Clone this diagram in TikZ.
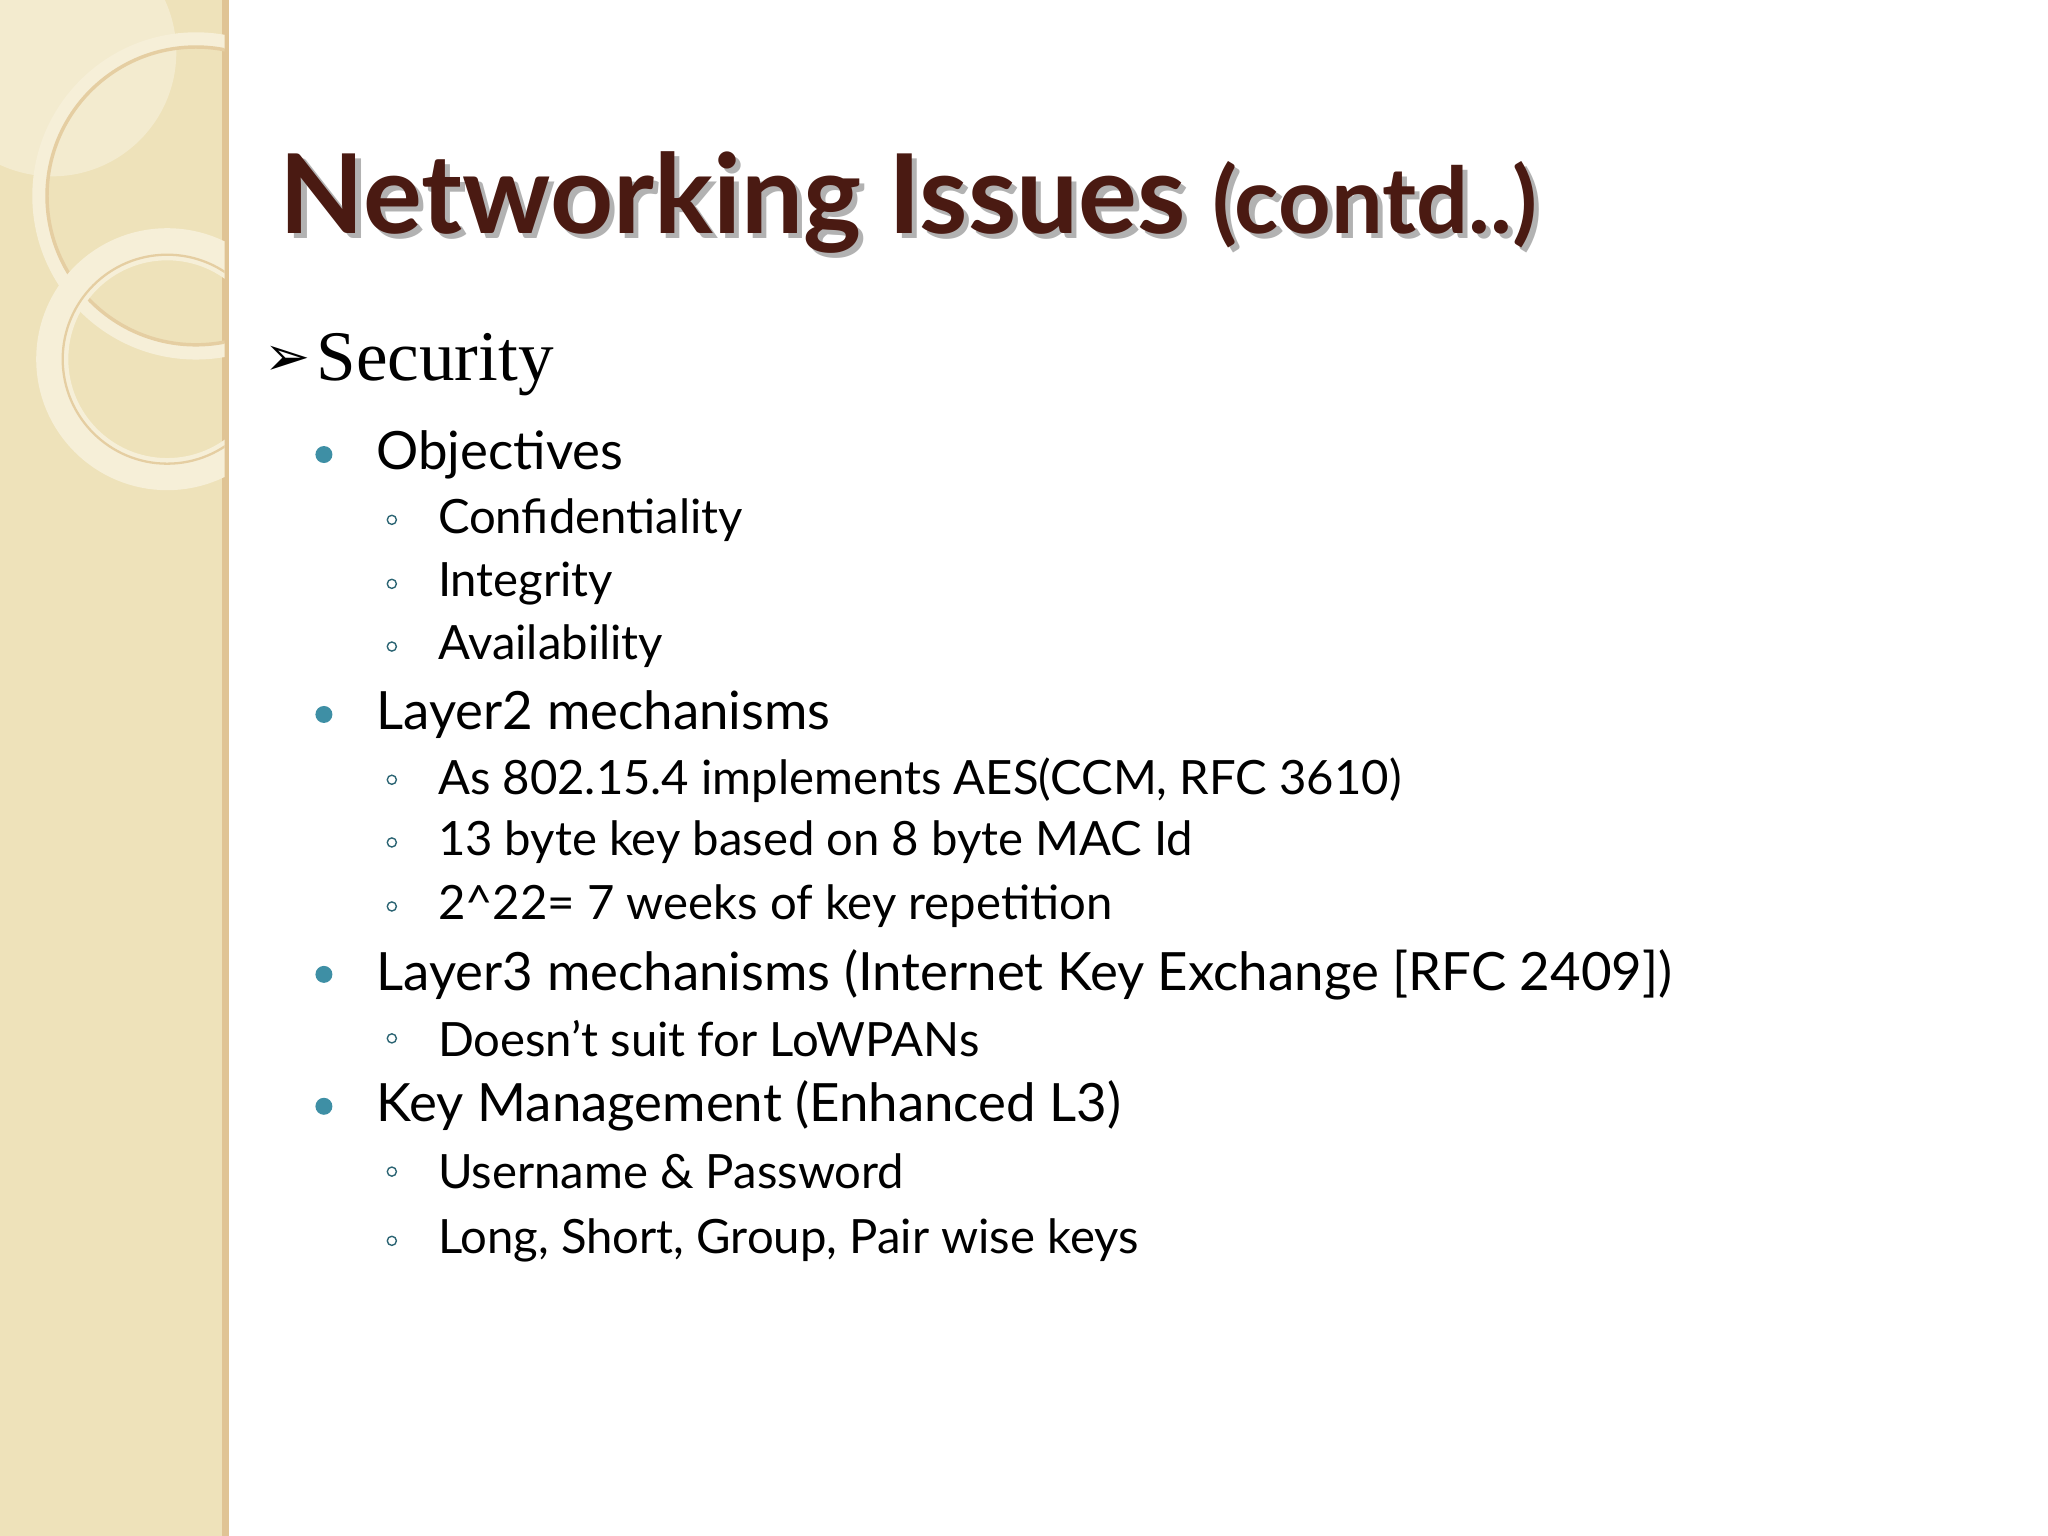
\documentclass[tikz,border=0pt]{standalone}
\usepackage{fontspec}
\setmainfont{Lato}
\newfontfamily\serifx{Liberation Serif}
\newfontfamily\symfont{DejaVu Sans}
\definecolor{beige}{HTML}{EEE2BA}
\definecolor{ring}{HTML}{F6EFD8}
\definecolor{ttl}{HTML}{4A1A12}
\definecolor{bul}{HTML}{3E8FA5}
\tikzset{
 lvl1/.style={anchor=west,font=\fontsize{23}{26}\selectfont,inner sep=0pt},
 lvl2/.style={anchor=west,font=\fontsize{20.6}{24}\selectfont,inner sep=0pt},
 dot1/.style={circle,fill=bul,inner sep=0pt,minimum size=0.26cm},
 dot2/.style={circle,draw=bul!70!black,line width=0.6pt,inner sep=0pt,minimum size=0.14cm},
 ttlstyle/.style={anchor=west,inner sep=0pt,font=\bfseries\fontsize{48}{54}\selectfont}
}
\begin{document}
\begin{tikzpicture}[x=0.02cm,y=-0.02cm]
\useasboundingbox (0,0) rectangle (1568,1176);
\fill[white] (0,0) rectangle (1568,1176);
\fill[beige] (0,0) rectangle (172,1176);
\fill[beige!70!brown] (170,0) rectangle (175,1176);
\begin{scope}
\clip (0,0) rectangle (172,1176);
\fill[ring,opacity=0.7] (40,40) circle (95);
\draw[ring,line width=6] (150,150) circle (120);
\draw[beige!80!brown,line width=1.5] (150,150) circle (114);
\draw[ring,line width=14] (128,275) circle (88);
\draw[beige!80!brown,line width=1] (128,275) circle (80);
\end{scope}
\node[ttlstyle,text=gray!60] (tsh) at (218,159) {Networking Issues \fontsize{40}{46}\selectfont(contd..)};
\node[ttlstyle,text=ttl] (title) at (214,155) {Networking Issues \fontsize{40}{46}\selectfont(contd..)};
\node[anchor=west,inner sep=0pt,font=\symfont\fontsize{24}{28}\selectfont] (arr) at (202,276) {➢};
\node[anchor=west,inner sep=0pt,font=\serifx\fontsize{31}{34}\selectfont] (sec) at (242,279) {Security};
\foreach \y/\t/\n in {348/Objectives/a,547/Layer2 mechanisms/b,746/{Layer3 mechanisms (Internet Key Exchange [RFC 2409])}/c,847/Key Management (Enhanced L3)/d}{
 \node[dot1] (d\n) at (248,\y) {};
 \node[lvl1] (t\n) at (288,\y) {\t};
}
\foreach \y/\t/\n in {398/Confidentiality/1,447/Integrity/2,495/Availability/3,597/{As 802.15.4 implements AES(CCM, RFC 3610)}/4,645/13 byte key based on 8 byte MAC Id/5,694/2\^{}22= 7 weeks of key repetition/6,795/Doesn’t suit for LoWPANs/7,897/Username \& Password/8,950/{Long, Short, Group, Pair wise keys}/9}{
 \node[dot2] (e\n) at (300,\y) {};
 \node[lvl2] (s\n) at (335,\y) {\t};
}
\end{tikzpicture}
\end{document}
